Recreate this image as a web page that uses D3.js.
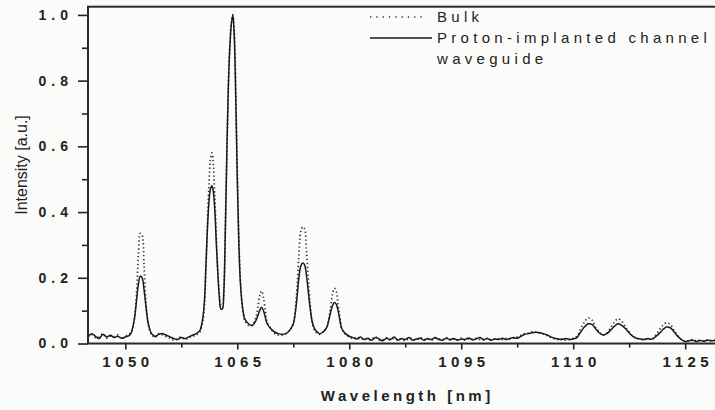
<!DOCTYPE html>
<html>
<head>
<meta charset="utf-8">
<script src="https://cdn.jsdelivr.net/npm/d3@7"></script>
<style>
  body { margin: 0; background: #fbfbf9; }
  svg { display: block; font-family: "Liberation Sans", Arial, sans-serif; }
</style>
</head>
<body>
<div class="chart"></div>
<script>
//wavelength samples [nm], finer around the peaks
var wavelength = [
  1045, 1045.5, 1046, 1046.5, 1047, 1047.5, 1048, 1048.5, 1049, 1049.5, 1050, 1050.5,
  1050.75, 1051, 1051.25, 1051.5, 1051.75, 1052, 1052.25, 1052.5, 1052.75, 1053, 1053.25, 1053.5, 1053.75,
  1054, 1054.5, 1055, 1055.5, 1056, 1056.5, 1057, 1057.5, 1058, 1058.5, 1059, 1059.5,
  1060, 1060.2, 1060.4, 1060.6, 1060.8, 1061, 1061.2, 1061.4, 1061.6, 1061.8,
  1062, 1062.2, 1062.4, 1062.6, 1062.8, 1063, 1063.2, 1063.4, 1063.6, 1063.8,
  1064, 1064.2, 1064.4, 1064.6, 1064.8, 1065, 1065.2, 1065.4, 1065.6, 1065.8,
  1066, 1066.5, 1067, 1067.5,
  1067.75, 1068, 1068.25, 1068.5, 1068.75, 1069, 1069.5, 1070, 1070.5, 1071, 1071.5, 1072,
  1072.5, 1072.75, 1073, 1073.25, 1073.5, 1073.75, 1074, 1074.25, 1074.5, 1074.75, 1075, 1075.25, 1075.5,
  1076, 1076.5, 1077,
  1077.25, 1077.5, 1077.75, 1078, 1078.25, 1078.5, 1078.75, 1079, 1079.5,
  1080, 1080.5, 1081, 1081.5, 1082, 1082.5, 1083, 1083.5, 1084, 1084.5,
  1085, 1085.5, 1086, 1086.5, 1087, 1087.5, 1088, 1088.5, 1089, 1089.5,
  1090, 1090.5, 1091, 1091.5, 1092, 1092.5, 1093, 1093.5, 1094, 1094.5,
  1095, 1095.5, 1096, 1096.5, 1097, 1097.5, 1098, 1098.5, 1099, 1099.5,
  1100, 1100.5, 1101, 1101.5, 1102, 1102.5, 1103, 1103.5, 1104, 1104.5,
  1105, 1105.5, 1106, 1106.5, 1107, 1107.5, 1108, 1108.5, 1109, 1109.5,
  1110, 1110.5, 1111, 1111.5, 1112, 1112.5, 1113, 1113.5, 1114, 1114.5,
  1115, 1115.5, 1116, 1116.5, 1117, 1117.5, 1118, 1118.5, 1119, 1119.5,
  1120, 1120.5, 1121, 1121.5, 1122, 1122.5, 1123, 1123.5, 1124, 1124.5,
  1125, 1125.5, 1126, 1126.5, 1127, 1127.5, 1128, 1128.5, 1129, 1129.5,
  1130
];

//proton-implanted channel waveguide (solid line)
var waveguide = [
  0.02, 0.03, 0.022, 0.015, 0.028, 0.02, 0.025, 0.018, 0.022, 0.016, 0.02, 0.024,
  0.03, 0.05, 0.08, 0.13, 0.18, 0.205, 0.2, 0.165, 0.115, 0.07, 0.045, 0.03, 0.025,
  0.022, 0.028, 0.03, 0.025, 0.02, 0.015, 0.012, 0.018, 0.015, 0.02, 0.025, 0.03,
  0.04, 0.055, 0.08, 0.13, 0.24, 0.35, 0.43, 0.47, 0.48, 0.46,
  0.40, 0.30, 0.21, 0.14, 0.105, 0.105, 0.16, 0.35, 0.58, 0.78,
  0.90, 0.97, 1.0, 0.93, 0.74, 0.50, 0.31, 0.19, 0.13, 0.095,
  0.075, 0.06, 0.055, 0.07,
  0.085, 0.1, 0.11, 0.1, 0.08, 0.06, 0.045, 0.035, 0.03, 0.028, 0.03, 0.04,
  0.06, 0.09, 0.14, 0.2, 0.235, 0.245, 0.24, 0.21, 0.16, 0.11, 0.07, 0.05, 0.04,
  0.03, 0.035, 0.05,
  0.07, 0.095, 0.115, 0.125, 0.12, 0.1, 0.07, 0.045, 0.03,
  0.022, 0.018, 0.014, 0.02, 0.012, 0.016, 0.01, 0.018, 0.014, 0.008,
  0.016, 0.012, 0.02, 0.01, 0.015, 0.012, 0.018, 0.01, 0.014, 0.016,
  0.01, 0.015, 0.012, 0.018, 0.012, 0.01, 0.016, 0.012, 0.015, 0.01,
  0.014, 0.012, 0.017, 0.011, 0.014, 0.018, 0.012, 0.015, 0.01, 0.014,
  0.012, 0.016, 0.012, 0.015, 0.018, 0.016, 0.022, 0.028, 0.03, 0.033,
  0.034, 0.033, 0.03, 0.026, 0.02, 0.016, 0.014, 0.012, 0.015, 0.012,
  0.014, 0.018, 0.035, 0.05, 0.06, 0.058, 0.045, 0.032, 0.026, 0.03,
  0.04, 0.052, 0.06, 0.055, 0.045, 0.032, 0.022, 0.016, 0.014, 0.012,
  0.015, 0.013, 0.02, 0.03, 0.042, 0.05, 0.048, 0.036, 0.022, 0.012,
  0.006, 0.008, 0.01, 0.006, 0.009, 0.007, 0.01, 0.008, 0.009, 0.007,
  0.008
];

//bulk crystal (dotted line)
var bulk = [
  0.025, 0.028, 0.018, 0.02, 0.03, 0.016, 0.022, 0.02, 0.026, 0.014, 0.022, 0.028,
  0.035, 0.045, 0.08, 0.15, 0.27, 0.335, 0.33, 0.24, 0.13, 0.07, 0.04, 0.028, 0.022,
  0.018, 0.03, 0.026, 0.02, 0.016, 0.01, 0.014, 0.02, 0.012, 0.018, 0.022, 0.026,
  0.035, 0.05, 0.07, 0.12, 0.22, 0.36, 0.48, 0.56, 0.58, 0.54,
  0.44, 0.32, 0.22, 0.15, 0.115, 0.11, 0.16, 0.34, 0.57, 0.78,
  0.91, 0.98, 1.0, 0.95, 0.77, 0.53, 0.33, 0.2, 0.13, 0.09,
  0.07, 0.055, 0.055, 0.08,
  0.11, 0.145, 0.16, 0.14, 0.1, 0.065, 0.045, 0.03, 0.025, 0.025, 0.03, 0.04,
  0.06, 0.1, 0.17, 0.27, 0.34, 0.355, 0.35, 0.29, 0.2, 0.12, 0.07, 0.045, 0.035,
  0.028, 0.035, 0.05,
  0.075, 0.11, 0.15, 0.168, 0.16, 0.12, 0.08, 0.045, 0.028,
  0.02, 0.015, 0.018, 0.012, 0.016, 0.01, 0.014, 0.02, 0.01, 0.012,
  0.018, 0.01, 0.016, 0.012, 0.014, 0.008, 0.016, 0.014, 0.01, 0.018,
  0.012, 0.014, 0.01, 0.016, 0.014, 0.012, 0.018, 0.01, 0.013, 0.012,
  0.016, 0.01, 0.014, 0.013, 0.016, 0.012, 0.01, 0.016, 0.012, 0.014,
  0.014, 0.012, 0.016, 0.014, 0.016, 0.02, 0.025, 0.03, 0.032, 0.036,
  0.035, 0.032, 0.028, 0.024, 0.018, 0.014, 0.012, 0.014, 0.01, 0.013,
  0.016, 0.022, 0.045, 0.065, 0.078, 0.072, 0.05, 0.035, 0.026, 0.032,
  0.048, 0.065, 0.075, 0.068, 0.05, 0.035, 0.022, 0.016, 0.013, 0.012,
  0.014, 0.012, 0.024, 0.04, 0.055, 0.063, 0.058, 0.04, 0.024, 0.012,
  0.007, 0.009, 0.012, 0.008, 0.01, 0.008, 0.011, 0.009, 0.01, 0.008,
  0.009
];

//axis ticks
var xTicks = [1050, 1065, 1080, 1095, 1110, 1125];
var xMinor = [1057.5, 1072.5, 1087.5, 1102.5, 1117.5];
var yTicks = [0, 0.2, 0.4, 0.6, 0.8, 1.0];
var yMinor = [0.1, 0.3, 0.5, 0.7, 0.9];

//legend entries
var legendNames = ["Bulk", "Proton-implanted channel", "waveguide"];

const w = 715;
const h = 410;
const ink = "#222";

//scales, the right edge of the frame falls just outside the picture
const xScale = d3.scaleLinear()
                 .domain([1045, 1130])
                 .range([88, 722.5]);

const yScale = d3.scaleLinear()
                 .domain([0, 1.025])
                 .range([343.5, 6.7]);

const svg = d3.select(".chart")
              .append("svg")
              .attr("width", w)
              .attr("height", h);

//the two spectra
const line = d3.line()
               .x((d) => xScale(d[0]))
               .y((d) => yScale(d[1]))
               .curve(d3.curveCatmullRom);

svg.append("path")
   .datum(d3.zip(wavelength, bulk))
   .attr("d", line)
   .attr("fill", "none")
   .attr("stroke", "#333")
   .attr("stroke-width", 1.7)
   .attr("stroke-dasharray", "1.3,2.6");

svg.append("path")
   .datum(d3.zip(wavelength, waveguide))
   .attr("d", line)
   .attr("fill", "none")
   .attr("stroke", "#1a1a1a")
   .attr("stroke-width", 1.5);

//x axis, major and minor ticks
const xAxis = d3.axisBottom(xScale)
                .tickValues(xTicks)
                .tickSize(6)
                .tickFormat(d3.format("d"));

const gx = svg.append("g")
              .attr("transform", "translate(0," + yScale(0) + ")")
              .call(xAxis);

gx.select(".domain").remove();
gx.selectAll("line").attr("stroke", ink).attr("stroke-width", 1.6);
gx.selectAll("text")
  .attr("fill", ink)
  .attr("font-size", 15)
  .attr("font-weight", "bold")
  .attr("letter-spacing", 4.5)
  .attr("dx", 2.2)
  .attr("y", 13);

const gxm = svg.append("g")
               .attr("transform", "translate(0," + yScale(0) + ")")
               .call(d3.axisBottom(xScale).tickValues(xMinor).tickSize(4).tickFormat(""));
gxm.select(".domain").remove();
gxm.selectAll("line").attr("stroke", ink).attr("stroke-width", 1.6);

//y axis, major and minor ticks
const yAxis = d3.axisLeft(yScale)
                .tickValues(yTicks)
                .tickSize(10)
                .tickPadding(10)
                .tickFormat(d3.format(".1f"));

const gy = svg.append("g")
              .attr("transform", "translate(" + xScale(1045) + ",0)")
              .call(yAxis);

gy.select(".domain").remove();
gy.selectAll("line").attr("stroke", ink).attr("stroke-width", 1.6);
gy.selectAll("text")
  .attr("fill", ink)
  .attr("font-size", 14)
  .attr("font-weight", "bold")
  .attr("letter-spacing", 5)
  .attr("dx", 5);

const gym = svg.append("g")
               .attr("transform", "translate(" + xScale(1045) + ",0)")
               .call(d3.axisLeft(yScale).tickValues(yMinor).tickSize(6).tickFormat(""));
gym.select(".domain").remove();
gym.selectAll("line").attr("stroke", ink).attr("stroke-width", 1.6);

//frame
svg.append("rect")
   .attr("x", xScale(1045))
   .attr("y", yScale(1.025))
   .attr("width", xScale(1130) - xScale(1045))
   .attr("height", yScale(0) - yScale(1.025))
   .attr("fill", "none")
   .attr("stroke", "#2a2a2a")
   .attr("stroke-width", 2);

//axis titles
svg.append("text")
   .attr("transform", "translate(27,165) rotate(-90)")
   .attr("text-anchor", "middle")
   .attr("fill", ink)
   .attr("font-size", 16)
   .text("Intensity [a.u.]");

svg.append("text")
   .attr("x", (xScale(1045) + xScale(1130)) / 2 + 2)
   .attr("y", 401)
   .attr("text-anchor", "middle")
   .attr("fill", ink)
   .attr("font-size", 15)
   .attr("font-weight", "bold")
   .attr("letter-spacing", 3.5)
   .text("Wavelength [nm]");

//legend
const legend = svg.append("g").attr("transform", "translate(370,0)");

legend.append("line")
      .attr("x1", 0).attr("x2", 52)
      .attr("y1", 17).attr("y2", 17)
      .attr("stroke", "#333")
      .attr("stroke-width", 1.7)
      .attr("stroke-dasharray", "1.3,5");

legend.append("line")
      .attr("x1", 0).attr("x2", 62)
      .attr("y1", 38).attr("y2", 38)
      .attr("stroke", "#1a1a1a")
      .attr("stroke-width", 1.5);

legend.selectAll(".leg")
      .data(legendNames)
      .enter()
      .append("text")
      .attr("class", "leg")
      .attr("x", 67)
      .attr("y", (d, i) => 22 + 21 * i)
      .attr("fill", ink)
      .attr("font-size", 15)
      .attr("letter-spacing", 4.3)
      .text((d) => d);
</script>
</body>
</html>
